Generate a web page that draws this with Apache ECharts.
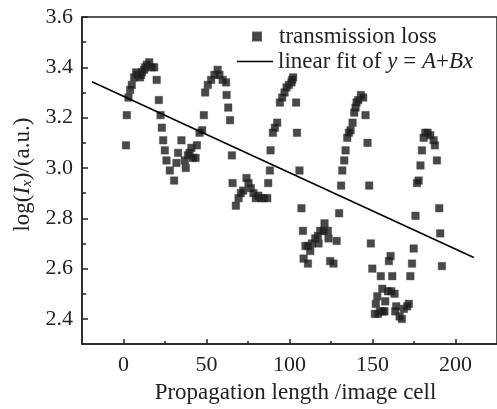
<!DOCTYPE html>
<html>
<head>
<meta charset="utf-8">
<script src="https://cdn.jsdelivr.net/npm/echarts@6/dist/echarts.min.js"></script>
<style>
  html, body { margin: 0; padding: 0; background: #fff; }
  #chart { width: 497px; height: 409px; }
</style>
</head>
<body>
<div id="chart"></div>
<script>
// transmission loss, one array per oscillation segment
const rise1 = [[1.5,3.09],[2,3.21],[3,3.28],[4,3.31],[5,3.33],[6.4,3.36],[7.6,3.38],[8.2,3.37],[9,3.37],[10,3.36],
  [10.5,3.37],[11,3.38],[12.4,3.39],[13,3.40],[14,3.41],[15.5,3.42],[17,3.40],[18.5,3.40]];
const fall1 = [[20,3.35],[21.3,3.27],[22.3,3.21],[23.1,3.16],[23.9,3.11],[24.9,3.07],[25.9,3.03],[27.9,2.99],[30.5,2.95]];
const trough1 = [[31.9,3.02],[32.9,3.06],[34.9,3.11],[36.9,3.03],[37.5,3.00],[38.8,3.05],[39.8,3.06],[40.9,3.08],
  [41.8,3.04],[43.4,3.04],[44.2,3.09],[45.8,3.14],[47.4,3.15]];
const hump2 = [[48.4,3.21],[49.2,3.30],[50.8,3.33],[52.8,3.35],[54.8,3.37],[56.7,3.39],[57.8,3.37],[59.7,3.35],
  [61.8,3.34],[62.1,3.29],[63.1,3.24],[64.2,3.19],[65.3,3.05],[65.7,2.94],[67.7,2.85]];
const trough2 = [[69.3,2.88],[70.7,2.90],[72.1,2.91],[74.1,2.96],[75.3,2.94],[76.7,2.92],[78.3,2.90],[79.7,2.88],
  [81.2,2.89],[82.7,2.88],[84.6,2.88],[86.6,2.88],[87.2,2.94],[88.2,2.99]];
const hump3 = [[88.6,3.07],[90,3.14],[91.2,3.16],[92.6,3.18],[94.2,3.26],[95.6,3.28],[97,3.30],[98.2,3.32],[99.6,3.33],
  [101.2,3.34],[101.6,3.35],[102.2,3.36],[104,3.26],[104.5,3.14],[106,2.99],[107.2,2.84]];
const trough3 = [[108.1,2.75],[108.5,2.64],[109.6,2.69],[111.1,2.69],[111.1,2.62],[112.5,2.67],[113.5,2.70],[115.5,2.72],
  [117.1,2.73],[117.5,2.70],[118.5,2.75],[120.5,2.75],[121.1,2.78],[123.1,2.75],[123.5,2.72],[124.5,2.63],[126.5,2.62],
  [128.4,2.71],[129.9,2.82]];
const hump4 = [[131.1,2.93],[131.8,2.99],[133,3.03],[133.8,3.07],[134.8,3.12],[135.8,3.14],[136.8,3.15],[138,3.18],
  [139,3.22],[139.8,3.24],[140.4,3.26],[141.4,3.27],[143,3.29],[144.4,3.28],[145.8,3.21],[147,3.10],[148,2.93],[149,2.70]];
const trough4 = [[149.9,2.60],[151.4,2.42],[152,2.46],[152.9,2.49],[153.3,2.42],[154.5,2.43],[155,2.57],[155.9,2.52],
  [156.3,2.43],[157.2,2.43],[157.7,2.47],[159.3,2.51],[159.9,2.63],[160.9,2.65],[161.3,2.51],[161.9,2.57],[163.3,2.50],
  [163.7,2.43],[164.3,2.45],[166.3,2.41],[167.7,2.40],[168.9,2.44],[170.9,2.45],[171.9,2.46],[172.8,2.57],[173.8,2.62],
  [174.8,2.68]];
const hump5 = [[175.9,2.81],[176.8,2.94],[177.8,2.95],[178.9,3.01],[179.8,3.07],[180.8,3.12],[181.8,3.14],[183.2,3.14],
  [184.8,3.13],[186.8,3.11],[187.6,3.09],[188.8,3.03],[190.2,2.84],[190.8,2.74],[191.8,2.61]];

// end points of the drawn fit line
const fitLine = [[-19, 3.343], [211, 2.644]];

const xMajor = [0, 50, 100, 150, 200];
const xMinor = [25, 75, 125, 175];
const yMajor = [2.4, 2.6, 2.8, 3.0, 3.2, 3.4, 3.6];
const yMinor = [2.5, 2.7, 2.9, 3.1, 3.3, 3.5];

const lossData = [].concat(rise1, fall1, trough1, hump2, trough2, hump3, trough3, hump4, trough4, hump5);

const FONT = 'Liberation Serif';
const INK = '#222';

const chart = echarts.init(document.getElementById('chart'));

const baseLine = { show: true, onZero: false, lineStyle: { color: INK, width: 1.5 } };
const tickStyle = { color: INK, width: 1.5 };

chart.setOption({
  animation: false,
  backgroundColor: '#fff',
  grid: {
    left: 82, top: 17, width: 418, height: 328,
    show: true, borderColor: INK, borderWidth: 1.5
  },
  legend: [
    {
      data: ['transmission loss'],
      left: 252, top: 25, padding: 0,
      itemWidth: 8, itemHeight: 8,
      textStyle: { fontFamily: FONT, fontSize: 23, color: INK, lineHeight: 20, padding: [0, 0, 0, 13] }
    },
    {
      data: [{ name: 'linear fit', icon: 'rect', itemStyle: { color: '#000' } }],
      left: 237, top: 50, padding: 0,
      itemWidth: 36, itemHeight: 1.6,
      formatter: () => '{n|linear fit of }{i|y}{n| = }{i|A}{n|+}{i|Bx}',
      textStyle: {
        fontFamily: FONT, fontSize: 23, color: INK, lineHeight: 20,
        rich: {
          n: { fontFamily: FONT, fontSize: 23, color: INK },
          i: { fontFamily: FONT, fontSize: 23, color: INK, fontStyle: 'italic' }
        }
      }
    }
  ],
  xAxis: [
    {
      type: 'value', min: -25, max: 225, position: 'bottom',
      splitLine: { show: false },
      axisLine: baseLine,
      axisTick: { show: true, inside: true, length: 5, customValues: xMajor, lineStyle: tickStyle },
      axisLabel: { customValues: xMajor, fontFamily: FONT, fontSize: 22, color: INK, margin: 10 },
      name: 'Propagation length /image cell',
      nameLocation: 'middle', nameGap: 30,
      nameTextStyle: { fontFamily: FONT, fontSize: 23, color: INK, padding: [0, 0, 0, 12] }
    },
    {
      type: 'value', min: -25, max: 225, position: 'bottom',
      splitLine: { show: false },
      axisLine: { show: false, onZero: false },
      axisTick: { show: true, inside: true, length: 3, customValues: xMinor, lineStyle: tickStyle },
      axisLabel: { show: false }
    }
  ],
  yAxis: [
    {
      type: 'value', min: 2.3, max: 3.6, position: 'left',
      splitLine: { show: false },
      axisLine: baseLine,
      axisTick: { show: true, inside: true, length: 6, customValues: yMajor, lineStyle: tickStyle },
      axisLabel: {
        customValues: yMajor, fontFamily: FONT, fontSize: 22, color: INK, margin: 9,
        formatter: v => v.toFixed(1)
      },
      name: '{n|log(}{i|I}{s|x}{n|)/(a.u.)}',
      nameLocation: 'middle', nameGap: 46,
      nameTextStyle: {
        fontFamily: FONT, fontSize: 23, color: INK, padding: [0, 0, 0, 12],
        rich: {
          n: { fontFamily: FONT, fontSize: 23, color: INK },
          i: { fontFamily: FONT, fontSize: 23, color: INK, fontStyle: 'italic' },
          s: { fontFamily: FONT, fontSize: 15, color: INK, fontStyle: 'italic', padding: [9, 0, 0, 0] }
        }
      }
    },
    {
      type: 'value', min: 2.3, max: 3.6, position: 'left',
      splitLine: { show: false },
      axisLine: { show: false, onZero: false },
      axisTick: { show: true, inside: true, length: 4, customValues: yMinor, lineStyle: tickStyle },
      axisLabel: { show: false }
    }
  ],
  series: [
    {
      name: 'transmission loss',
      type: 'scatter',
      symbol: 'rect',
      symbolSize: 7.5,
      itemStyle: { color: '#1c1c1c', borderColor: '#3a3a3a', borderWidth: 0.5 },
      data: lossData
    },
    {
      name: 'linear fit',
      type: 'line',
      symbol: 'none',
      lineStyle: { color: '#000', width: 1.6 },
      data: fitLine
    }
  ]
});
</script>
</body>
</html>
